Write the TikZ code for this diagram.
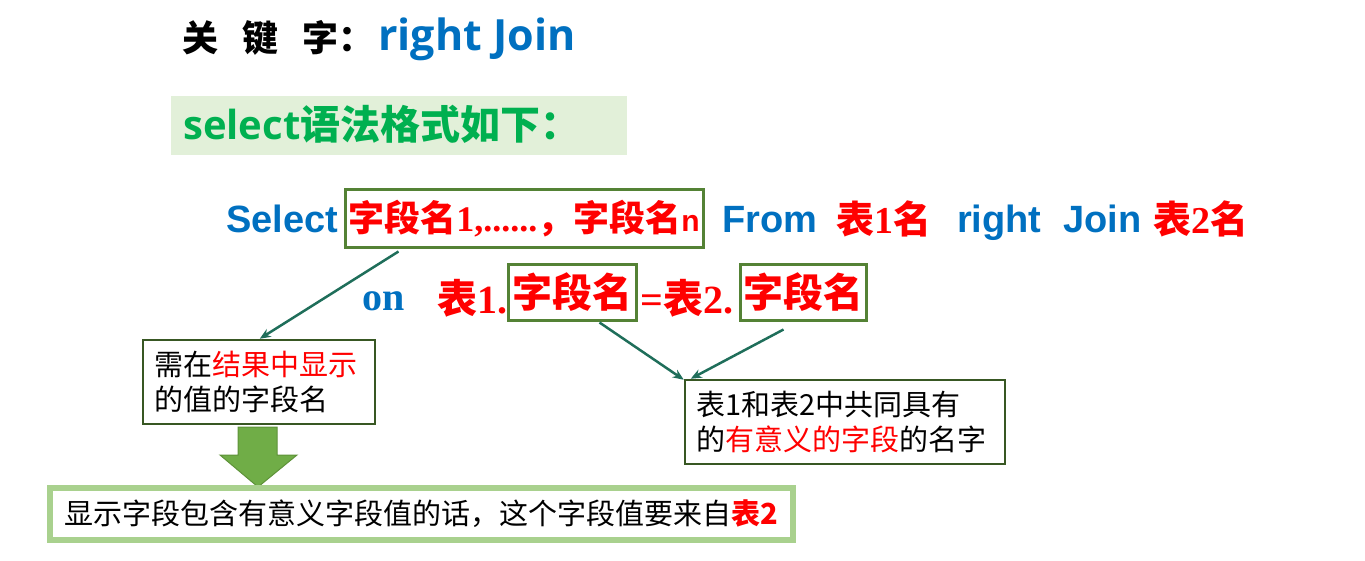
\documentclass[tikz,border=0pt]{standalone}
\usepackage{fontspec}
\setmainfont{Liberation Sans}
\newfontfamily\cjk{Noto Sans CJK SC}
\newfontfamily\ar{Liberation Sans}
\newfontfamily\tnr{Liberation Serif}
\newfontfamily\osans{Open Sans}
\usetikzlibrary{arrows.meta,calc}
\definecolor{blu}{HTML}{0070C0}
\definecolor{rd}{HTML}{FF0000}
\definecolor{grt}{HTML}{00B050}
\definecolor{bxg}{HTML}{548235}
\definecolor{dkg}{HTML}{385723}
\definecolor{lg}{HTML}{A9D18E}
\definecolor{lgf}{HTML}{E2F0D9}
\definecolor{arrc}{HTML}{1F6E5A}
\definecolor{ag}{HTML}{70AD47}
\definecolor{agd}{HTML}{5E9239}
\newcommand\fsz[1]{\fontsize{#1}{#1}\selectfont}
\tikzset{
  txt/.style={anchor=base west,inner sep=0},
  bluetxt/.style={txt,text=blu,font=\fsz{38}\ar\bfseries},
  redtxt/.style={txt,text=rd,font=\fsz{38}\cjk\bfseries},
  redtxtb/.style={txt,text=rd,font=\fsz{40}\cjk\bfseries},
  fieldbox/.style={draw=bxg,line width=3,inner sep=0,text=rd,font=\fsz{36}\cjk\bfseries},
  notebox/.style={draw=dkg,line width=2.5,align=left,inner xsep=11,inner ysep=0,font=\fontsize{29}{35}\selectfont\cjk},
  arr/.style={draw=arrc,line width=2.5,-{Stealth[length=11pt,width=9pt]}}
}
\begin{document}
\begin{tikzpicture}[x=1pt,y=-1pt]
\useasboundingbox (0,0) rectangle (1365,561);
% title
\node[txt,font=\fsz{36}\cjk\bfseries] (kw) at (182,52) {关\hspace{24pt}键\hspace{24pt}字：};
\node[txt,text=blu,font=\fsz{43}\osans\bfseries] (rj) at (378,51) {right Join};
% select box
\node[fill=lgf,minimum width=456,minimum height=59,inner sep=0] (gb) at (399,125.5) {};
\node[txt,text=grt,font=\fsz{40}\cjk\bfseries] (gt) at (183,140) {{\osans select}语法格式如下：};
% main line
\node[bluetxt] (sl) at (226,233) {Select};
\node[fieldbox,minimum width=358,minimum height=58] (sel) at (524,219)
  {字段名{\tnr 1,......}，字段名{\ar\fsz{30}n}};
\node[bluetxt] (fr) at (722,233) {From};
\node[redtxt] (t1) at (836,234) {表{\tnr 1}名};
\node[bluetxt] (rt) at (957,233) {right};
\node[bluetxt] (jn) at (1063,233) {Join};
\node[redtxt] (t2) at (1153,234) {表{\tnr 2}名};
% on line
\node[txt,text=blu,font=\fsz{40}\tnr\bfseries] (on) at (362,311) {on};
\node[redtxtb] (p1) at (437,313) {表{\tnr 1.}};
\node[fieldbox,font=\fsz{40}\cjk\bfseries,minimum width=128,minimum height=55] (f1) at (572,292.5) {\raisebox{-4pt}{字段名}};
\node[redtxtb] (p2) at (640,313) {{\tnr =}表{\tnr 2.}};
\node[fieldbox,font=\fsz{40}\cjk\bfseries,minimum width=126,minimum height=55] (f2) at (803,292.5) {\raisebox{-4pt}{字段名}};
% notes
\node[notebox,minimum width=232,minimum height=84,text width=210] (b1) at (259,382)
  {需在\textcolor{rd}{结果中显示}\\的值的字段名};
\node[notebox,minimum width=320,minimum height=84,text width=298] (b2) at (845,422)
  {表1和表2中共同具有\\的\textcolor{rd}{有意义的字段}的名字};
% big arrow
\draw[fill=ag,draw=agd,line width=1] (238,427) -- (277,427) -- (277,455) -- (297,455)
  -- (258,487) -- (220,455) -- (238,455) -- cycle;
% bottom box
\node[draw=lg,line width=6,minimum width=743,minimum height=52,inner sep=0,font=\fsz{29}\cjk] (bt) at (421.5,514)
  {显示字段包含有意义字段值的话，这个字段值要来自\textcolor{rd}{\bfseries 表2}};
% connectors
\draw[arr] ($(sel.south west)+(55,2)$) -- ($(b1.north west)+(118,0)$);
\draw[arr] ($(f1.south east)+(-38,1)$) -- ($(b2.north west)+(0,1)$);
\draw[arr] ($(f2.south east)+(-84,8)$) -- ($(b2.north west)+(7,0)$);
\end{tikzpicture}
\end{document}
